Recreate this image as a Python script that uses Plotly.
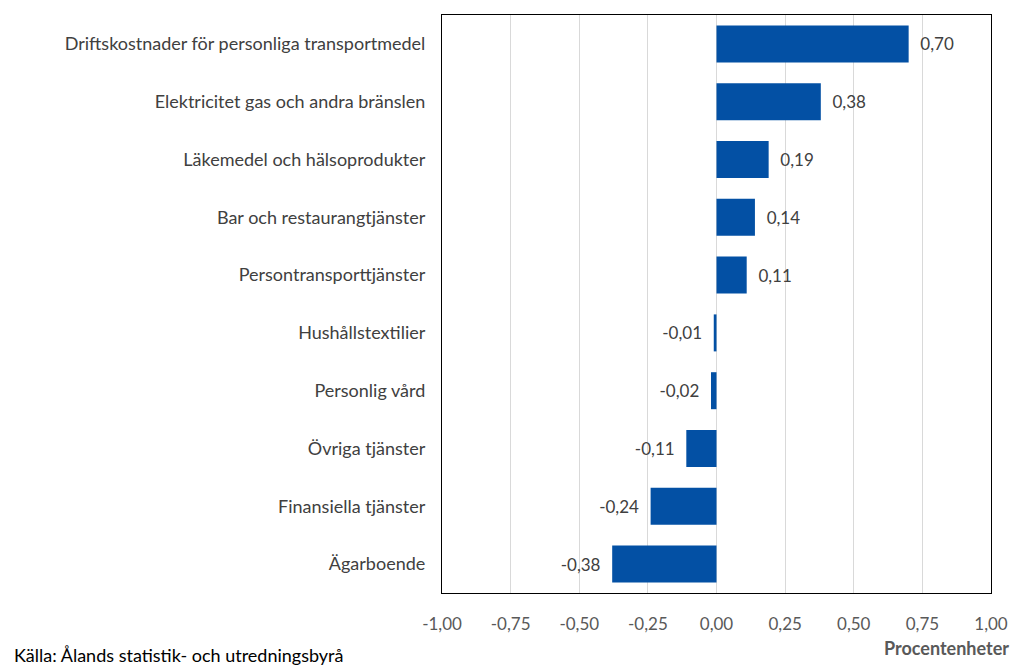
import plotly.graph_objects as go

categories = [
    "Driftskostnader för personliga transportmedel",
    "Elektricitet gas och andra bränslen",
    "Läkemedel och hälsoprodukter",
    "Bar och restaurangtjänster",
    "Persontransporttjänster",
    "Hushållstextilier",
    "Personlig vård",
    "Övriga tjänster",
    "Finansiella tjänster",
    "Ägarboende",
]
values = [0.70, 0.38, 0.19, 0.14, 0.11, -0.01, -0.02, -0.11, -0.24, -0.38]
tick_vals = [-1.0, -0.75, -0.5, -0.25, 0.0, 0.25, 0.5, 0.75, 1.0]
tick_text = [f"{v:.2f}".replace(".", ",") for v in tick_vals]

FONT = "Lato"
TXT = "#404040"
NB = "\u00a0"

labels = [(NB * 2 + f"{v:.2f}".replace(".", ",")) if v >= 0
          else (f"{v:.2f}".replace(".", ",") + NB * 2) for v in values]

fig = go.Figure(go.Bar(
    y=categories,
    x=values,
    orientation="h",
    marker=dict(color="#0350A4", line=dict(width=0)),
    width=0.64,
    text=labels,
    textposition="outside",
    textfont=dict(family=FONT, size=17, color=TXT),
    cliponaxis=False,
))

fig.update_layout(
    width=1024, height=670,
    margin=dict(l=442, r=33, t=15, b=77),
    paper_bgcolor="white", plot_bgcolor="white",
    showlegend=False,
    font=dict(family=FONT, size=16, color=TXT),
    xaxis=dict(
        range=[-1.0, 1.0],
        tickvals=tick_vals,
        ticktext=tick_text,
        showgrid=True, gridcolor="#D9D9D9", gridwidth=1,
        zeroline=True, zerolinecolor="#D9D9D9", zerolinewidth=1,
        showline=True, linecolor="black", linewidth=1.2, mirror=True,
        ticks="", ticklabelstandoff=15,
        tickfont=dict(family=FONT, size=17, color="#595959"),
    ),
    yaxis=dict(
        autorange="reversed",
        showline=True, linecolor="black", linewidth=1.2, mirror=True,
        showgrid=False, ticks="", ticklabelstandoff=12,
        tickfont=dict(family=FONT, size=18, color=TXT),
    ),
    annotations=[
        dict(text="<b>Procentenheter</b>", xref="paper", yref="paper",
             x=1.0, y=0, xanchor="right", yanchor="top", yshift=-42, xshift=20,
             showarrow=False, font=dict(family=FONT, size=18, color="#595959")),
        dict(text="Källa: Ålands statistik- och utredningsbyrå", xref="paper", yref="paper",
             x=(12 - 442) / 549, y=0, xanchor="left", yanchor="bottom", yshift=-75,
             showarrow=False, font=dict(family=FONT, size=18, color="black")),
    ],
)

fig.write_html("out.html")
